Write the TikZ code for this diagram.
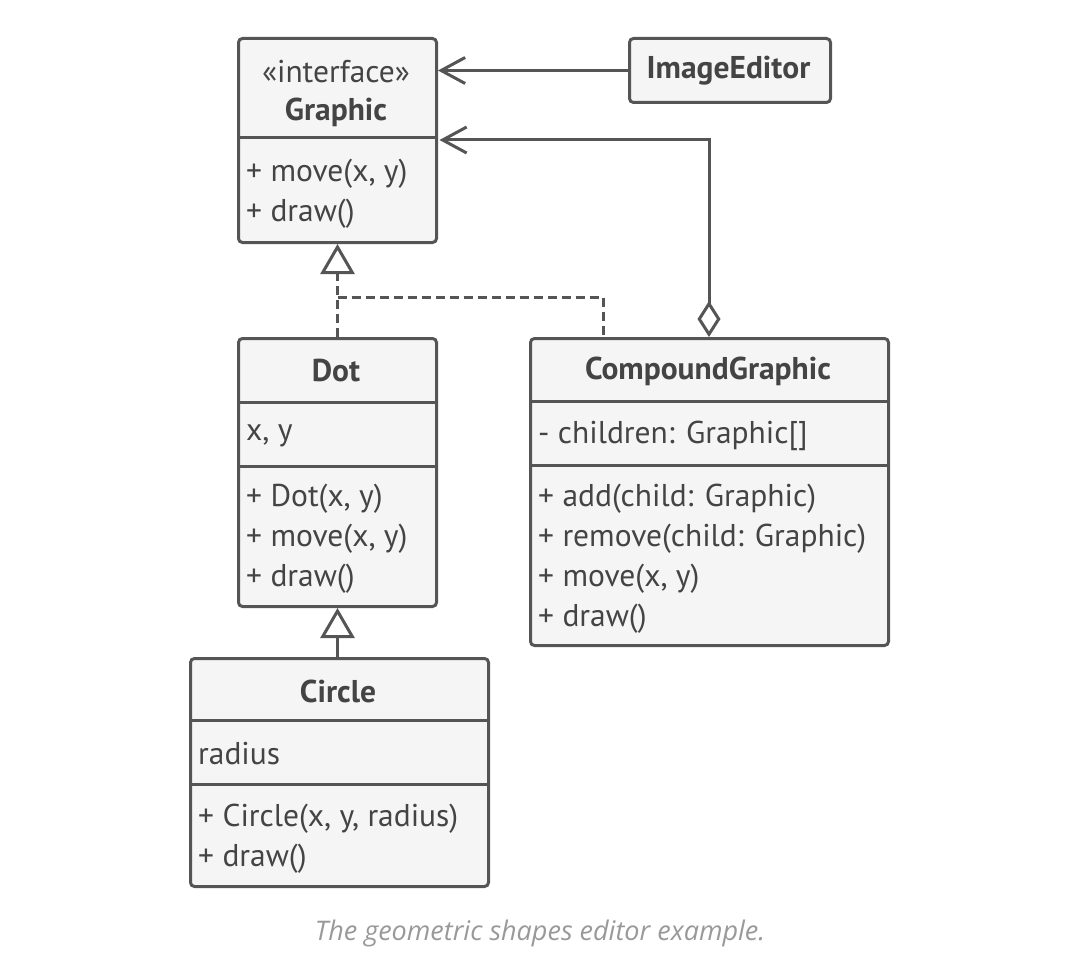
\documentclass[tikz,border=0pt]{standalone}
\usepackage{fontspec}
\setmainfont{PT Sans}
\newfontfamily\capfont{Open Sans}
\usetikzlibrary{arrows.meta,calc}
\definecolor{ln}{HTML}{555555}
\definecolor{bx}{HTML}{F5F5F5}
\definecolor{tx}{HTML}{444444}
\definecolor{cp}{HTML}{999999}
\tikzset{
  cls/.style={draw=ln, fill=bx, line width=3pt, rounded corners=4pt, anchor=north west, inner sep=0pt},
  title/.style={font=\fontsize{31.5}{36}\selectfont\bfseries, text=tx, inner sep=0pt, yshift=-2pt},
  memb/.style={font=\fontsize{31.5}{36}\selectfont, text=tx, anchor=west, inner sep=0pt, yshift=-2pt},
  divl/.style={draw=ln, line width=3pt},
  conn/.style={draw=ln, line width=3pt},
  assoc/.style={conn, -{Straight Barb[length=24pt, width=26pt, line width=3pt]}},
  realize/.style={conn, dash pattern=on 9pt off 5pt, -{Triangle[open, length=30pt, width=34pt, line width=3pt]}},
  inherit/.style={conn, -{Triangle[open, length=30pt, width=34pt, line width=3pt]}},
  dashl/.style={conn, dash pattern=on 9pt off 5pt},
  agg/.style={conn, {Diamond[open, length=36pt, width=23pt, line width=3pt, fill=white]}-{Straight Barb[length=24pt, width=26pt, line width=3pt]}},
}
\begin{document}
\begin{tikzpicture}[x=1pt, y=-1pt]
\useasboundingbox (0,0) rectangle (1080,955);
% Graphic
\node[cls, minimum width=198pt, minimum height=204pt] (g) at (237,37) {};
\draw[divl] (237,138) -- (435,138);
\node[font=\fontsize{31.5}{36}\selectfont, text=tx, inner sep=0pt, yshift=-2pt] (gs) at (336,70) {«interface»};
\node[title] (gt) at (336,110) {Graphic};
\node[memb] (g1) at (246,172) {+ move(x, y)};
\node[memb] (g2) at (246,212) {+ draw()};
% ImageEditor
\node[cls, minimum width=201pt, minimum height=64pt] (ie) at (628,37) {};
\node[title] (iet) at (728.5,69) {ImageEditor};
% Dot
\node[cls, minimum width=198pt, minimum height=268pt] (d) at (237,337) {};
\draw[divl] (237,402) -- (435,402);
\draw[divl] (237,466) -- (435,466);
\node[title] (dt) at (336,369) {Dot};
\node[memb] (d0) at (246,434) {x, y};
\node[memb] (d1) at (246,497) {+ Dot(x, y)};
\node[memb] (d2) at (246,537) {+ move(x, y)};
\node[memb] (d3) at (246,577) {+ draw()};
% CompoundGraphic
\node[cls, minimum width=358pt, minimum height=307pt] (cg) at (529,337) {};
\draw[divl] (529,401) -- (887,401);
\draw[divl] (529,465) -- (887,465);
\node[title] (cgt) at (708,369) {CompoundGraphic};
\node[memb] (c0) at (538,434) {- children: Graphic[]};
\node[memb] (c1) at (538,497) {+ add(child: Graphic)};
\node[memb] (c2) at (538,537) {+ remove(child: Graphic)};
\node[memb] (c3) at (538,577) {+ move(x, y)};
\node[memb] (c4) at (538,617) {+ draw()};
% Circle
\node[cls, minimum width=298pt, minimum height=228pt] (ci) at (189,657) {};
\draw[divl] (189,720) -- (487,720);
\draw[divl] (189,784) -- (487,784);
\node[title] (cit) at (338,689) {Circle};
\node[memb] (r0) at (198,752) {radius};
\node[memb] (r1) at (198,817) {+ Circle(x, y, radius)};
\node[memb] (r2) at (198,857) {+ draw()};
% connectors
\draw[assoc] (ie.west) -- (ie.west -| g.east);
\coordinate (cgd) at ($(cg.north west)+(180,0)$);
\coordinate (gin) at ($(g.north east)+(0,103)$);
\draw[agg] (cgd) |- ([xshift=1.5pt]gin);
\draw[realize] (d.north) -- (g.south);
\coordinate (cgr) at ($(cg.north west)+(74,0)$);
\draw[dashl] ($(d.north)+(0,-40)$) -| (cgr);
\draw[inherit] (d.south |- ci.north) -- (d.south);
% caption
\node[font=\capfont\itshape\fontsize{27}{32}\selectfont, text=cp, inner sep=0pt] (cap) at (540,933) {The geometric shapes editor example.};
\end{tikzpicture}
\end{document}
